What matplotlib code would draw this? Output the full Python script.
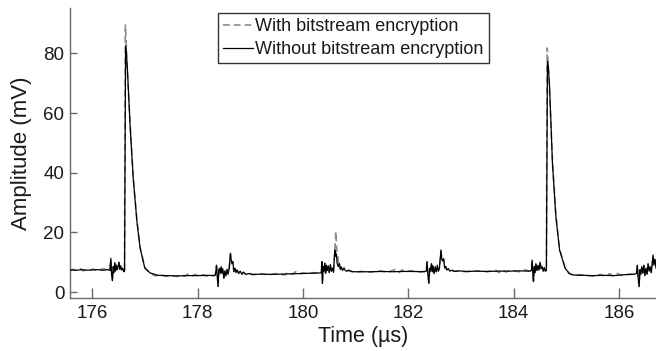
import matplotlib
matplotlib.use("Agg")
import matplotlib.pyplot as plt

# ---- data ----
# Without bitstream encryption (black solid)
t_without = [
    175.58, 175.70, 175.80, 175.90, 176.00, 176.10, 176.20, 176.30,
    176.34, 176.355, 176.37, 176.385, 176.40, 176.415, 176.43, 176.445, 176.46, 176.475,
    176.49, 176.51, 176.525, 176.54, 176.56, 176.58, 176.60, 176.615,
    176.635, 176.65, 176.67, 176.72, 176.78, 176.85, 176.91, 177.00, 177.10, 177.25,
    177.40, 177.60, 177.80, 178.00, 178.20, 178.32,
    178.34, 178.36, 178.375, 178.39, 178.405, 178.42, 178.435, 178.45, 178.465, 178.48,
    178.50, 178.52, 178.54, 178.56, 178.58, 178.60, 178.625, 178.64, 178.655, 178.67,
    178.69, 178.71, 178.73, 178.75, 178.78, 178.81, 178.84, 178.87, 178.92, 178.97,
    179.05, 179.20, 179.40, 179.60, 179.80, 180.00, 180.20, 180.33,
    180.35, 180.36, 180.37, 180.385, 180.40, 180.415, 180.43, 180.445, 180.46, 180.48,
    180.50, 180.52, 180.54, 180.56, 180.58, 180.605, 180.62, 180.635, 180.65, 180.67,
    180.69, 180.71, 180.73, 180.75, 180.78, 180.82, 180.87, 180.95, 181.10,
    181.30, 181.50, 181.70, 181.90, 182.10, 182.30,
    182.34, 182.355, 182.37, 182.39, 182.405, 182.42, 182.44, 182.455, 182.47, 182.49,
    182.51, 182.53, 182.55, 182.57, 182.59, 182.62, 182.635, 182.65, 182.67, 182.69,
    182.71, 182.73, 182.76, 182.79, 182.83, 182.88, 182.95, 183.10,
    183.30, 183.50, 183.70, 183.90, 184.10, 184.30,
    184.335, 184.35, 184.365, 184.375, 184.39, 184.405, 184.42, 184.44, 184.46, 184.48,
    184.50, 184.52, 184.54, 184.56, 184.58, 184.60, 184.62,
    184.64, 184.655, 184.68, 184.735, 184.80, 184.87, 184.975, 185.05, 185.13, 185.30,
    185.50, 185.70, 185.90, 186.10, 186.30,
    186.33, 186.345, 186.36, 186.38, 186.395, 186.41, 186.43, 186.45, 186.47, 186.49,
    186.51, 186.53, 186.55, 186.57, 186.59, 186.61, 186.63, 186.645, 186.66, 186.68, 186.70,
]
v_without = [
    7.4, 7.3, 7.5, 7.3, 7.4, 7.5, 7.3, 7.5,
    7.2, 11.3, 6.0, 3.8, 8.5, 6.5, 9.8, 7.0, 9.0, 7.5,
    8.2, 10.0, 7.6, 8.8, 7.4, 8.0, 6.8, 7.0,
    82.5, 80.0, 74.5, 56.0, 38.0, 23.6, 14.8, 8.0, 6.4, 5.6,
    5.5, 5.4, 5.5, 5.5, 5.6, 5.5,
    5.8, 9.0, 5.5, 1.8, 7.5, 8.0, 6.3, 8.5, 6.4, 7.8,
    4.6, 7.0, 5.5, 7.6, 6.0, 7.8, 13.0, 10.5, 9.6, 10.2,
    6.8, 8.0, 6.5, 7.4, 6.2, 7.0, 6.0, 6.6, 5.9, 6.2,
    5.9, 6.0, 5.9, 6.0, 6.1, 6.2, 6.3, 6.4,
    6.5, 10.2, 2.9, 8.5, 7.0, 9.7, 6.3, 9.0, 7.2, 8.8,
    6.5, 9.2, 7.0, 8.0, 6.6, 14.1, 12.0, 12.8, 9.5, 8.5,
    9.6, 7.6, 8.4, 7.4, 7.8, 7.0, 7.2, 6.8, 6.8,
    6.8, 6.9, 6.8, 6.9, 6.9, 6.8,
    7.0, 10.2, 6.0, 2.9, 8.0, 7.0, 9.5, 6.8, 8.8, 6.2,
    8.5, 6.8, 9.0, 7.0, 8.0, 14.1, 11.0, 10.5, 11.2, 8.0,
    8.6, 7.4, 7.8, 7.0, 7.3, 6.9, 7.1, 6.9,
    7.0, 6.9, 7.0, 7.0, 7.1, 7.0,
    7.2, 10.7, 5.5, 3.5, 8.5, 6.5, 9.5, 7.2, 9.0, 7.4,
    10.0, 7.8, 8.5, 7.0, 8.2, 7.0, 7.2,
    77.3, 76.0, 68.9, 43.2, 25.3, 14.1, 8.0, 6.3, 5.7, 5.6,
    5.5, 5.6, 5.5, 5.8, 6.0,
    6.2, 9.0, 5.0, 1.8, 7.5, 6.0, 8.5, 6.3, 9.0, 5.5,
    8.0, 6.0, 9.5, 7.0, 8.5, 6.5, 10.0, 12.4, 9.0, 11.0, 8.0,
]

# With bitstream encryption (gray dashed)
t_with = [
    175.58, 175.65, 175.70, 175.78, 175.83, 175.90, 175.95, 176.02, 176.08, 176.15,
    176.22, 176.28, 176.33,
    176.355, 176.37, 176.385, 176.40, 176.415, 176.43, 176.445, 176.46, 176.475,
    176.49, 176.51, 176.525, 176.54, 176.56, 176.58, 176.60, 176.615,
    176.63, 176.645, 176.665, 176.72, 176.78, 176.85, 176.91, 177.00, 177.10, 177.20,
    177.30, 177.40, 177.50, 177.60, 177.70, 177.75, 177.82, 177.88, 177.95, 178.02,
    178.10, 178.18, 178.25, 178.32,
    178.34, 178.36, 178.375, 178.39, 178.405, 178.42, 178.435, 178.45, 178.465, 178.48,
    178.50, 178.52, 178.54, 178.56, 178.58, 178.60, 178.625, 178.64, 178.655, 178.67,
    178.69, 178.71, 178.73, 178.75, 178.78, 178.81, 178.84, 178.87, 178.92, 178.97,
    179.05, 179.20, 179.35, 179.50, 179.65, 179.72, 179.80, 179.86, 179.93, 180.00,
    180.10, 180.20, 180.33,
    180.35, 180.36, 180.37, 180.385, 180.40, 180.415, 180.43, 180.445, 180.46, 180.48,
    180.50, 180.52, 180.54, 180.56, 180.58, 180.625, 180.645, 180.66, 180.675, 180.69,
    180.71, 180.73, 180.75, 180.78, 180.82, 180.87, 180.95, 181.10,
    181.30, 181.45, 181.60, 181.75, 181.82, 181.88, 181.95, 182.05, 182.15, 182.30,
    182.34, 182.355, 182.37, 182.39, 182.405, 182.42, 182.44, 182.455, 182.47, 182.49,
    182.51, 182.53, 182.55, 182.57, 182.59, 182.62, 182.635, 182.65, 182.67, 182.69,
    182.71, 182.73, 182.76, 182.79, 182.83, 182.88, 182.95, 183.10,
    183.30, 183.50, 183.65, 183.72, 183.78, 183.85, 183.95, 184.10, 184.20, 184.30,
    184.335, 184.35, 184.365, 184.375, 184.39, 184.405, 184.42, 184.44, 184.46, 184.48,
    184.50, 184.52, 184.54, 184.56, 184.58, 184.60, 184.62,
    184.635, 184.65, 184.675, 184.735, 184.80, 184.87, 184.975, 185.05, 185.13, 185.30,
    185.50, 185.65, 185.75, 185.82, 185.88, 185.95, 186.05, 186.15, 186.30,
    186.33, 186.345, 186.36, 186.38, 186.395, 186.41, 186.43, 186.45, 186.47, 186.49,
    186.51, 186.53, 186.55, 186.57, 186.59, 186.61, 186.63, 186.645, 186.66, 186.68, 186.70,
]
v_with = [
    7.3, 7.6, 7.2, 7.8, 7.1, 7.6, 7.3, 7.7, 7.2, 7.5,
    7.8, 7.3, 7.4,
    11.0, 6.2, 4.0, 8.3, 6.7, 9.6, 7.2, 8.8, 7.6,
    8.0, 9.8, 7.8, 8.6, 7.5, 7.8, 7.0, 7.2,
    89.5, 84.0, 75.0, 56.5, 38.5, 24.0, 15.0, 8.2, 6.3, 5.4,
    5.8, 5.2, 5.6, 5.2, 5.8, 5.3, 6.0, 5.2, 5.9, 5.4,
    5.8, 5.3, 5.7, 5.5,
    5.8, 8.8, 5.6, 2.0, 7.4, 8.1, 6.2, 8.4, 6.5, 7.6,
    4.8, 7.1, 5.4, 7.5, 6.1, 7.6, 12.6, 10.6, 9.4, 10.0,
    7.0, 7.8, 6.6, 7.3, 6.3, 7.1, 5.9, 6.7, 5.8, 6.3,
    5.8, 6.1, 5.8, 6.2, 5.7, 6.6, 5.9, 6.8, 6.0, 6.4,
    6.1, 6.5, 6.3,
    6.5, 10.0, 3.1, 8.3, 7.1, 9.5, 6.4, 8.8, 7.3, 8.6,
    6.6, 9.0, 7.1, 7.9, 6.8, 20.3, 13.0, 12.4, 9.2, 9.8,
    7.8, 8.6, 7.2, 8.2, 6.8, 7.4, 6.6, 6.9,
    6.7, 7.1, 6.6, 7.5, 6.5, 7.4, 6.8, 7.2, 6.6, 6.9,
    7.0, 10.0, 6.2, 3.1, 7.8, 7.1, 9.3, 6.9, 8.6, 6.3,
    8.3, 6.9, 8.8, 7.1, 7.9, 13.6, 11.2, 10.4, 11.0, 8.2,
    8.4, 7.5, 7.7, 7.1, 7.2, 7.0, 7.0, 6.8,
    7.1, 6.8, 7.4, 6.5, 7.6, 6.7, 7.3, 6.8, 7.5, 7.0,
    7.3, 10.5, 5.7, 3.7, 8.3, 6.6, 9.3, 7.3, 8.8, 7.5,
    9.8, 7.9, 8.4, 7.1, 8.0, 7.1, 7.3,
    81.8, 78.0, 69.5, 43.8, 25.8, 14.4, 8.2, 6.2, 5.6, 5.8,
    5.3, 5.9, 5.2, 6.2, 5.4, 6.3, 5.6, 5.9, 6.0,
    6.2, 8.8, 5.2, 2.0, 7.4, 6.1, 8.3, 6.4, 8.8, 5.7,
    7.9, 6.1, 9.3, 7.1, 8.3, 6.6, 9.8, 12.0, 9.2, 10.8, 8.1,
]

x_ticks = [176, 178, 180, 182, 184, 186]
y_ticks = [0, 20, 40, 60, 80]
legend_labels = ["With bitstream encryption", "Without bitstream encryption"]

# ---- plot ----
plt.rcParams['font.family'] = ['Liberation Sans', 'DejaVu Sans']
fig = plt.figure(figsize=(6.56, 3.51), dpi=100)
ax = fig.add_axes([70 / 656, 53 / 351, 586 / 656, 290 / 351])

ax.plot(t_with, v_with, color='#8a8a8a', lw=1.2, linestyle=(0, (4, 2.5)),
        label=legend_labels[0], zorder=2)
ax.plot(t_without, v_without, color='black', lw=0.9, label=legend_labels[1], zorder=3)

ax.set_xlim(175.58, 186.70)
ax.set_ylim(-2.0, 95.2)
ax.set_xticks(x_ticks)
ax.set_yticks(y_ticks)

spine_col = '#6a6a6a'
for s in ['top', 'right']:
    ax.spines[s].set_visible(False)
for s in ['left', 'bottom']:
    ax.spines[s].set_color(spine_col)
    ax.spines[s].set_linewidth(1.0)
ax.tick_params(direction='in', length=5, width=1.0, color=spine_col,
               labelsize=13.5, labelcolor='#1a1a1a', pad=4)
ax.tick_params(axis='x', length=7, pad=5)

ax.set_xlabel('Time (µs)', fontsize=15.5, color='#1a1a1a', labelpad=3)
ax.set_ylabel('Amplitude (mV)', fontsize=16, color='#1a1a1a', labelpad=8)

leg = ax.legend(loc='upper left', bbox_to_anchor=((218 - 70) / 586, (298 - 13) / 290),
                bbox_transform=ax.transAxes, borderaxespad=0, fontsize=13,
                frameon=True, fancybox=False, handlelength=1.65, handletextpad=0.1,
                borderpad=0.3, labelspacing=0.3)
leg.get_frame().set_edgecolor('black')
leg.get_frame().set_linewidth(1.0)
for txt in leg.get_texts():
    txt.set_color('#1a1a1a')

fig.savefig('out.png', dpi=100)
